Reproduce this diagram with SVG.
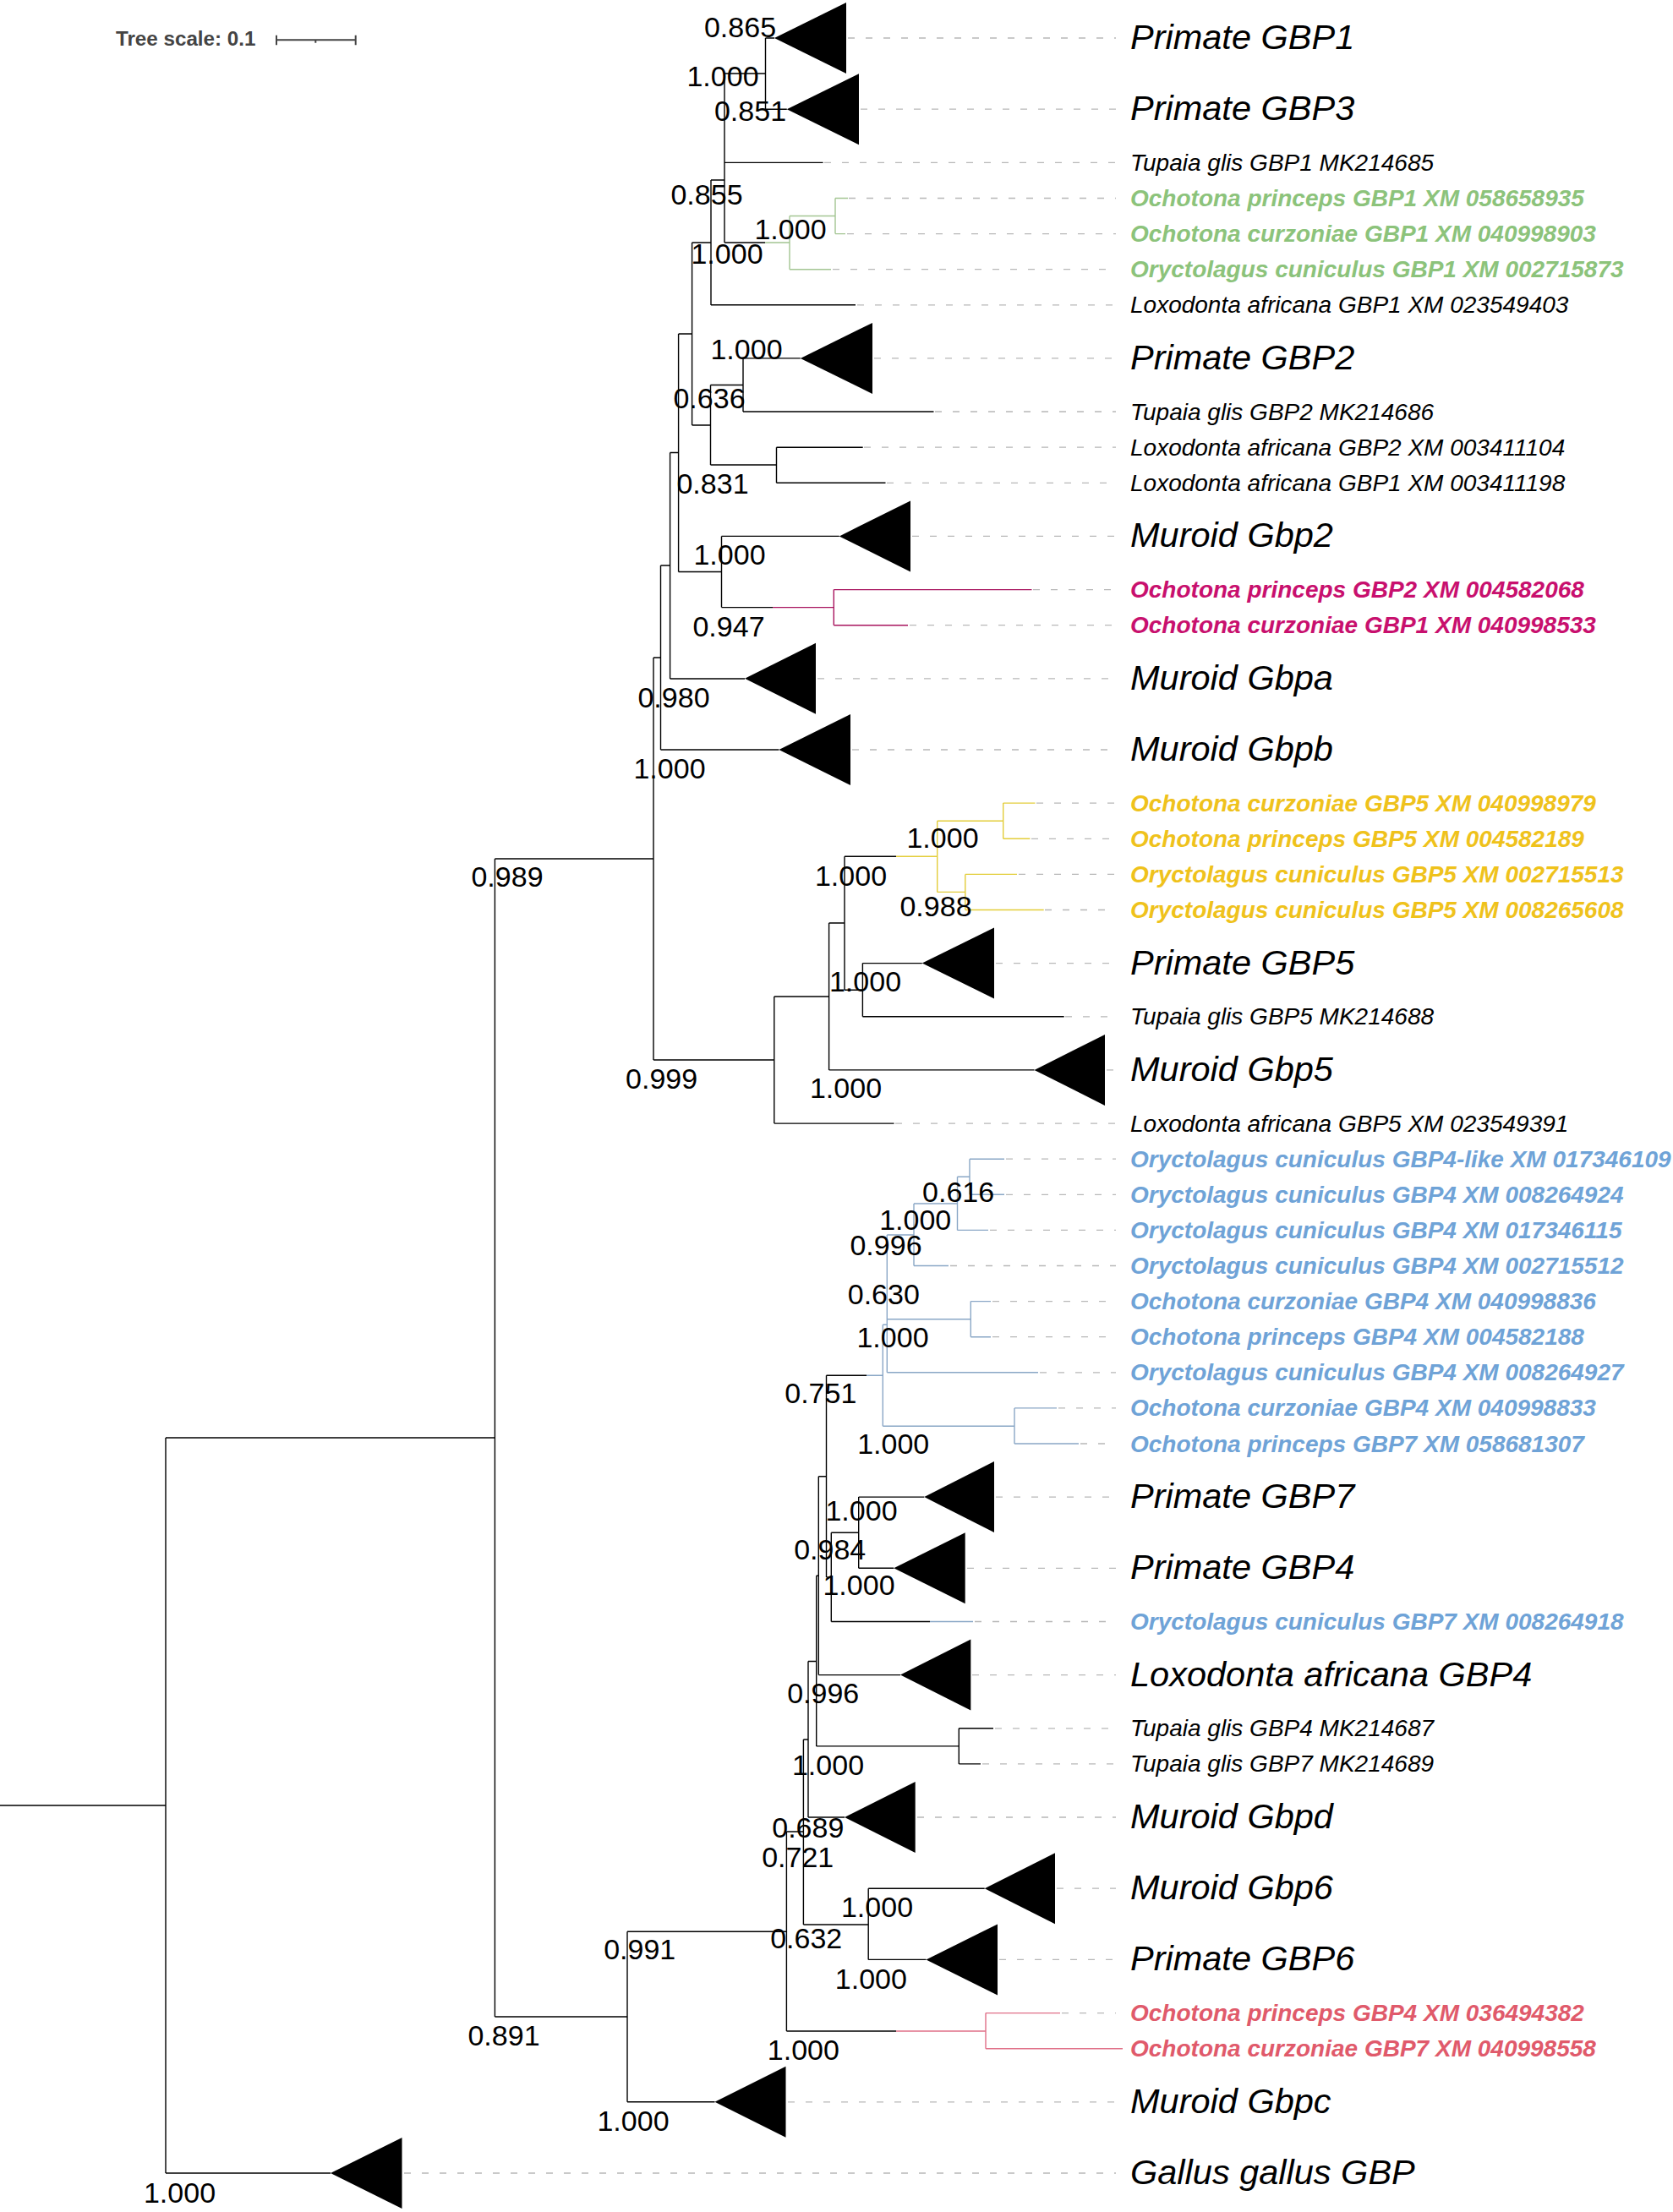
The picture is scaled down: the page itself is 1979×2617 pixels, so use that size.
<svg xmlns="http://www.w3.org/2000/svg" width="1979" height="2617" viewBox="0 0 1979 2617">
<style>
text{font-family:"Liberation Sans",Arial,sans-serif}
.br{fill:none;stroke:#000;stroke-width:1.4}
.brg{fill:none;stroke:#a3c592;stroke-width:1.4}
.brm{fill:none;stroke:#a8155f;stroke-width:1.4}
.bry{fill:none;stroke:#e3cd3a;stroke-width:1.4}
.brb{fill:none;stroke:#8aa7c6;stroke-width:1.4}
.brp{fill:none;stroke:#e07088;stroke-width:1.4}
.lead{fill:none;stroke:#b8b8b8;stroke-width:1.3;stroke-dasharray:8 13}
.clade{fill:#000}
.big{font-size:41.5px;font-style:italic;fill:#000}
.sm{font-size:28px;font-style:italic;fill:#000}
.col{font-size:28px;font-style:italic;font-weight:bold}
.g{fill:#8cc37b}.m{fill:#c8106e}.y{fill:#efc21c}.b{fill:#6fa3d7}.p{fill:#e05a6b}
.bs{font-size:34px;text-anchor:middle;fill:#000}
.sc{font-size:24.2px;font-weight:bold;fill:#444}
</style>
<g id="tree-scale">
<text class="sc" x="137" y="54">Tree scale: 0.1</text>
<path d="M327 47.3H420.7M327 41.7V53.3M420.7 41.7V53.3M373.3 47.3V50.7" fill="none" stroke="#444" stroke-width="2"/>
</g>
<g id="connectors">
<path class="br" d="M0 2136H196M196 1701V2571M196 1701H585.4M196 2571H391M585.4 1016V2386M585.4 1016H773M585.4 2386H742M773 778V1254M773 778H781.5M773 1254H915.8M781.5 669V887M781.5 669H792.6M781.5 887H921.4M792.6 535.5V803M792.6 535.5H802.6M792.6 803H881M802.6 395V676.5M802.6 395H818.6M802.6 676.5H853.5M818.6 287V503M818.6 287H841M818.6 503H840.5M841 213V361M841 213H857M841 360.8H1012M857 140V287M857 287H905M857 87V192.4M857 87H905.5M857 192.4H973.6M905.5 45V129.2M905.5 45H916M905.5 129.2H930.8M840.5 455.5V550M840.5 455.5H879M840.5 550H918.5M879 423.9V487M879 423.9H946.8M879 487H1104.5M918.5 529.2V571.3M918.5 529.2H1020.7M918.5 571.3H1047.5M853.5 634.4V718.6M853.5 634.4H992.8M853.5 718.6H914"/>
<path class="br" d="M915.8 1179V1329.1M915.8 1179H980.6M915.8 1329.1H1057.6M980.6 1092V1265.9M980.6 1092H999M980.6 1265.9H1223.5M999 1013.3V1171.2M999 1013.3H1060M999 1171.2H1020.4M1020.4 1139.6V1202.8M1020.4 1139.6H1090.8M1020.4 1202.8H1258.7"/>
<path class="br" d="M742 2285.3V2486.8M742 2285.3H930.4M742 2486.8H845.5M930.4 2167V2403M930.4 2167H950.4M930.4 2403H1060M950.4 2058V2277M950.4 2058H956M950.4 2277H1027.2M1027.2 2234.2V2318.4M1027.2 2234.2H1164.7M1027.2 2318.4H1095.5M956 1965.5V2150M956 1965.5H965.7M956 2150H999M965.7 1864.3V2065.9M965.7 1864.3H968.3M965.7 2065.9H1134.3M1134.3 2044.8V2086.9M1134.3 2044.8H1175M1134.3 2086.9H1160M968.3 1746.7V1981.6M968.3 1746.7H977.5M968.3 1981.6H1065M977.5 1627.3V1866M977.5 1627.3H1025M977.5 1866H983.3M983.3 1813.2V1918.5M983.3 1813.2H1015.7M983.3 1918.5H1100M1015.7 1771.1V1855.3M1015.7 1771.1H1093.3M1015.7 1855.3H1057.3"/>
<path class="brg" d="M905 287H934M934 255.5V318.7M934 255.5H988M934 318.7H983M988 234.5V276.6M988 234.5H1003M988 276.6H1000"/>
<path class="brm" d="M914 718.6H986.3M986.3 697.6V739.7M986.3 697.6H1220.5M986.3 739.7H1074"/>
<path class="bry" d="M1060 1013.3H1108.7M1108.7 971.2V1055.4M1108.7 971.2H1186.7M1108.7 1055.4H1141.8M1186.7 950.1V992.3M1186.7 950.1H1224.5M1186.7 992.3H1218.4M1141.8 1034.4V1076.5M1141.8 1034.4H1203M1141.8 1076.5H1234.7"/>
<path class="brb" d="M1025 1627.3H1044.3M1044.3 1567.3V1687.3M1044.3 1567.3H1049.3M1044.3 1687.3H1200M1049.3 1461V1623.8M1049.3 1461H1081M1049.3 1560.7H1148.3M1049.3 1623.8H1228M1081 1424V1497.5M1081 1424H1132.5M1081 1497.5H1122M1132.5 1392.3V1455.4M1132.5 1392.3H1147M1132.5 1455.4H1169M1147 1371.2V1413.3M1147 1371.2H1188M1147 1413.3H1188M1148.3 1539.6V1581.7M1148.3 1539.6H1172M1148.3 1581.7H1172M1200 1665.9V1708M1200 1665.9H1250M1200 1708H1276M1100 1918.5H1151"/>
<path class="brp" d="M1060 2403H1166M1166 2381.6V2423.7M1166 2381.6H1254M1166 2423.7H1328"/>
</g>
<g id="support-values">
<text class="bs" x="875.5" y="44">0.865</text>
<text class="bs" x="855" y="102">1.000</text>
<text class="bs" x="887.5" y="143">0.851</text>
<text class="bs" x="836" y="242">0.855</text>
<text class="bs" x="935" y="283">1.000</text>
<text class="bs" x="860" y="312">1.000</text>
<text class="bs" x="883" y="425">1.000</text>
<text class="bs" x="839" y="483">0.636</text>
<text class="bs" x="843" y="584">0.831</text>
<text class="bs" x="863" y="668">1.000</text>
<text class="bs" x="862" y="753">0.947</text>
<text class="bs" x="797" y="837">0.980</text>
<text class="bs" x="792" y="921">1.000</text>
<text class="bs" x="600" y="1049">0.989</text>
<text class="bs" x="1115" y="1003">1.000</text>
<text class="bs" x="1006.5" y="1048">1.000</text>
<text class="bs" x="1107" y="1084">0.988</text>
<text class="bs" x="1023.5" y="1173">1.000</text>
<text class="bs" x="782.6" y="1288">0.999</text>
<text class="bs" x="1000.5" y="1299">1.000</text>
<text class="bs" x="1133.6" y="1422">0.616</text>
<text class="bs" x="1082.7" y="1455">1.000</text>
<text class="bs" x="1048" y="1485">0.996</text>
<text class="bs" x="1045.3" y="1543">0.630</text>
<text class="bs" x="1056" y="1594">1.000</text>
<text class="bs" x="970.8" y="1660">0.751</text>
<text class="bs" x="1056.7" y="1719.5">1.000</text>
<text class="bs" x="1019" y="1799">1.000</text>
<text class="bs" x="981.7" y="1845">0.984</text>
<text class="bs" x="1016" y="1887">1.000</text>
<text class="bs" x="973.7" y="2015">0.996</text>
<text class="bs" x="979.5" y="2100">1.000</text>
<text class="bs" x="955.8" y="2174">0.689</text>
<text class="bs" x="943.7" y="2209">0.721</text>
<text class="bs" x="1037.5" y="2268">1.000</text>
<text class="bs" x="756.7" y="2318">0.991</text>
<text class="bs" x="953.7" y="2305">0.632</text>
<text class="bs" x="1030.4" y="2353">1.000</text>
<text class="bs" x="596" y="2420">0.891</text>
<text class="bs" x="950.4" y="2437">1.000</text>
<text class="bs" x="749" y="2521">1.000</text>
<text class="bs" x="212.5" y="2606">1.000</text>
</g>
<g id="leaf-primate-gbp1"><path class="clade" d="M916 45L1001 3L1001 87Z"/><path class="lead" d="M1003 45H1320"/><text class="big" x="1337" y="58">Primate GBP1</text></g>
<g id="leaf-primate-gbp3"><path class="clade" d="M930.8 129.2L1016 87.2L1016 171.2Z"/><path class="lead" d="M1018 129.2H1320"/><text class="big" x="1337" y="142">Primate GBP3</text></g>
<g id="leaf-tupaia-gbp1"><path class="lead" d="M975 192.4H1320"/><text class="sm" x="1337" y="202">Tupaia glis GBP1 MK214685</text></g>
<g id="leaf-op-gbp1"><path class="lead" d="M1004 234.5H1320"/><text class="col g" x="1337" y="244">Ochotona princeps GBP1 XM 058658935</text></g>
<g id="leaf-oc-gbp1"><path class="lead" d="M1002 276.6H1320"/><text class="col g" x="1337" y="286">Ochotona curzoniae GBP1 XM 040998903</text></g>
<g id="leaf-or-gbp1"><path class="lead" d="M985 318.7H1320"/><text class="col g" x="1337" y="328">Oryctolagus cuniculus GBP1 XM 002715873</text></g>
<g id="leaf-lox-gbp1-a"><path class="lead" d="M1014 360.8H1320"/><text class="sm" x="1337" y="370">Loxodonta africana GBP1 XM 023549403</text></g>
<g id="leaf-primate-gbp2"><path class="clade" d="M946.8 423.9L1032 381.9L1032 465.9Z"/><path class="lead" d="M1034 423.9H1320"/><text class="big" x="1337" y="437">Primate GBP2</text></g>
<g id="leaf-tupaia-gbp2"><path class="lead" d="M1106 487H1320"/><text class="sm" x="1337" y="496.5">Tupaia glis GBP2 MK214686</text></g>
<g id="leaf-lox-gbp2"><path class="lead" d="M1022 529.2H1320"/><text class="sm" x="1337" y="538.7">Loxodonta africana GBP2 XM 003411104</text></g>
<g id="leaf-lox-gbp1-b"><path class="lead" d="M1049 571.3H1320"/><text class="sm" x="1337" y="580.8">Loxodonta africana GBP1 XM 003411198</text></g>
<g id="leaf-muroid-gbp2"><path class="clade" d="M992.8 634.4L1077 592.4L1077 676.4Z"/><path class="lead" d="M1079 634.4H1320"/><text class="big" x="1337" y="647.4">Muroid Gbp2</text></g>
<g id="leaf-op-gbp2"><path class="lead" d="M1222 697.6H1320"/><text class="col m" x="1337" y="707.1">Ochotona princeps GBP2 XM 004582068</text></g>
<g id="leaf-oc-gbp1-b"><path class="lead" d="M1076 739.7H1320"/><text class="col m" x="1337" y="749.2">Ochotona curzoniae GBP1 XM 040998533</text></g>
<g id="leaf-muroid-gbpa"><path class="clade" d="M881 802.8L965 760.8L965 844.8Z"/><path class="lead" d="M967 802.8H1320"/><text class="big" x="1337" y="815.8">Muroid Gbpa</text></g>
<g id="leaf-muroid-gbpb"><path class="clade" d="M921.4 887L1006 845L1006 929Z"/><path class="lead" d="M1008 887H1320"/><text class="big" x="1337" y="900">Muroid Gbpb</text></g>
<g id="leaf-oc-gbp5"><path class="lead" d="M1226 950.1H1320"/><text class="col y" x="1337" y="959.6">Ochotona curzoniae GBP5 XM 040998979</text></g>
<g id="leaf-op-gbp5"><path class="lead" d="M1220 992.3H1320"/><text class="col y" x="1337" y="1001.8">Ochotona princeps GBP5 XM 004582189</text></g>
<g id="leaf-or-gbp5-a"><path class="lead" d="M1205 1034.4H1320"/><text class="col y" x="1337" y="1043.9">Oryctolagus cuniculus GBP5 XM 002715513</text></g>
<g id="leaf-or-gbp5-b"><path class="lead" d="M1236 1076.5H1320"/><text class="col y" x="1337" y="1086">Oryctolagus cuniculus GBP5 XM 008265608</text></g>
<g id="leaf-primate-gbp5"><path class="clade" d="M1090.8 1139.6L1176 1097.6L1176 1181.6Z"/><path class="lead" d="M1178 1139.6H1320"/><text class="big" x="1337" y="1152.6">Primate GBP5</text></g>
<g id="leaf-tupaia-gbp5"><path class="lead" d="M1260 1202.8H1320"/><text class="sm" x="1337" y="1212.3">Tupaia glis GBP5 MK214688</text></g>
<g id="leaf-muroid-gbp5"><path class="clade" d="M1223.5 1265.9L1307 1223.9L1307 1307.9Z"/><path class="lead" d="M1309 1265.9H1320"/><text class="big" x="1337" y="1278.9">Muroid Gbp5</text></g>
<g id="leaf-lox-gbp5"><path class="lead" d="M1059 1329.1H1320"/><text class="sm" x="1337" y="1338.6">Loxodonta africana GBP5 XM 023549391</text></g>
<g id="leaf-or-gbp4like"><path class="lead" d="M1190 1371.2H1320"/><text class="col b" x="1337" y="1380.7">Oryctolagus cuniculus GBP4-like XM 017346109</text></g>
<g id="leaf-or-gbp4-a"><path class="lead" d="M1190 1413.3H1320"/><text class="col b" x="1337" y="1422.8">Oryctolagus cuniculus GBP4 XM 008264924</text></g>
<g id="leaf-or-gbp4-b"><path class="lead" d="M1171 1455.4H1320"/><text class="col b" x="1337" y="1464.9">Oryctolagus cuniculus GBP4 XM 017346115</text></g>
<g id="leaf-or-gbp4-c"><path class="lead" d="M1124 1497.5H1320"/><text class="col b" x="1337" y="1507">Oryctolagus cuniculus GBP4 XM 002715512</text></g>
<g id="leaf-oc-gbp4-a"><path class="lead" d="M1174 1539.6H1320"/><text class="col b" x="1337" y="1549.1">Ochotona curzoniae GBP4 XM 040998836</text></g>
<g id="leaf-op-gbp4-a"><path class="lead" d="M1174 1581.7H1320"/><text class="col b" x="1337" y="1591.2">Ochotona princeps GBP4 XM 004582188</text></g>
<g id="leaf-or-gbp4-d"><path class="lead" d="M1230 1623.8H1320"/><text class="col b" x="1337" y="1633.3">Oryctolagus cuniculus GBP4 XM 008264927</text></g>
<g id="leaf-oc-gbp4-b"><path class="lead" d="M1252 1665.9H1320"/><text class="col b" x="1337" y="1675.4">Ochotona curzoniae GBP4 XM 040998833</text></g>
<g id="leaf-op-gbp7"><path class="lead" d="M1278 1708H1320"/><text class="col b" x="1337" y="1717.5">Ochotona princeps GBP7 XM 058681307</text></g>
<g id="leaf-primate-gbp7"><path class="clade" d="M1093.3 1771.1L1176 1729.1L1176 1813.1Z"/><path class="lead" d="M1178 1771.1H1320"/><text class="big" x="1337" y="1784.1">Primate GBP7</text></g>
<g id="leaf-primate-gbp4"><path class="clade" d="M1057.3 1855.3L1141.7 1813.3L1141.7 1897.3Z"/><path class="lead" d="M1144 1855.3H1320"/><text class="big" x="1337" y="1868.3">Primate GBP4</text></g>
<g id="leaf-or-gbp7"><path class="lead" d="M1153 1918.5H1320"/><text class="col b" x="1337" y="1928">Oryctolagus cuniculus GBP7 XM 008264918</text></g>
<g id="leaf-lox-gbp4"><path class="clade" d="M1065 1981.6L1148.3 1939.6L1148.3 2023.6Z"/><path class="lead" d="M1150 1981.6H1320"/><text class="big" x="1337" y="1994.6">Loxodonta africana GBP4</text></g>
<g id="leaf-tupaia-gbp4"><path class="lead" d="M1177 2044.8H1320"/><text class="sm" x="1337" y="2054.3">Tupaia glis GBP4 MK214687</text></g>
<g id="leaf-tupaia-gbp7"><path class="lead" d="M1162 2086.9H1320"/><text class="sm" x="1337" y="2096.4">Tupaia glis GBP7 MK214689</text></g>
<g id="leaf-muroid-gbpd"><path class="clade" d="M999 2150L1082.7 2108L1082.7 2192Z"/><path class="lead" d="M1085 2150H1320"/><text class="big" x="1337" y="2163">Muroid Gbpd</text></g>
<g id="leaf-muroid-gbp6"><path class="clade" d="M1164.7 2234.2L1248 2192.2L1248 2276.2Z"/><path class="lead" d="M1250 2234.2H1320"/><text class="big" x="1337" y="2247.2">Muroid Gbp6</text></g>
<g id="leaf-primate-gbp6"><path class="clade" d="M1095.5 2318.4L1180 2276.4L1180 2360.4Z"/><path class="lead" d="M1182 2318.4H1320"/><text class="big" x="1337" y="2331.4">Primate GBP6</text></g>
<g id="leaf-op-gbp4-b"><path class="lead" d="M1256 2381.6H1320"/><text class="col p" x="1337" y="2391.1">Ochotona princeps GBP4 XM 036494382</text></g>
<g id="leaf-oc-gbp7"><text class="col p" x="1337" y="2433.2">Ochotona curzoniae GBP7 XM 040998558</text></g>
<g id="leaf-muroid-gbpc"><path class="clade" d="M845.5 2486.8L929.5 2444.8L929.5 2528.8Z"/><path class="lead" d="M932 2486.8H1320"/><text class="big" x="1337" y="2499.8">Muroid Gbpc</text></g>
<g id="leaf-gallus-gbp"><path class="clade" d="M391 2571L475.5 2529L475.5 2613Z"/><path class="lead" d="M478 2571H1320"/><text class="big" x="1337" y="2584">Gallus gallus GBP</text></g>
</svg>
